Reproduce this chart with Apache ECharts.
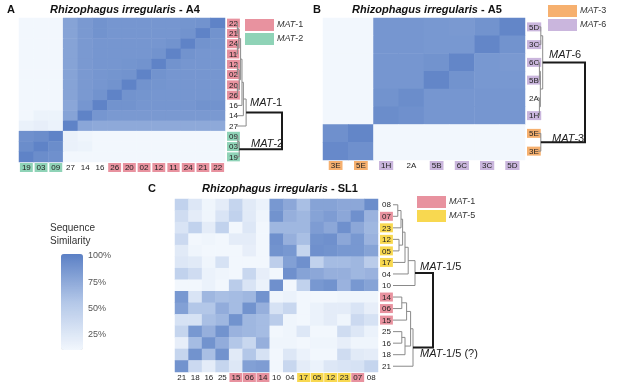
<!DOCTYPE html>
<html>
<head>
<meta charset="utf-8">
<script src="https://cdn.jsdelivr.net/npm/echarts@6/dist/echarts.min.js"></script>
<style>
html, body { margin: 0; padding: 0; background: #fff; }
#chart { width: 617px; height: 385px; }
</style>
</head>
<body>
<div id="chart"></div>
<script>
// ---- panel A : A4 ----
var rowsA = ['22', '21', '24', '11', '12', '02', '20', '26', '16', '14', '27', '09', '03', '19'];
var rowTagsA = ['m1', 'm1', 'm1', 'm1', 'm1', 'm1', 'm1', 'm1', 'n', 'n', 'n', 'm2', 'm2', 'm2'];
var colsA = ['19', '03', '09', '27', '14', '16', '26', '20', '02', '12', '11', '24', '21', '22'];
var colTagsA = ['m2', 'm2', 'm2', 'n', 'n', 'n', 'm1', 'm1', 'm1', 'm1', 'm1', 'm1', 'm1', 'm1'];
var simA = [
	[5, 4, 4, 78, 84, 88, 86, 86, 86, 86, 86, 87, 88, 98],
	[5, 5, 4, 78, 84, 88, 86, 86, 86, 86, 86, 88, 98, 88],
	[6, 4, 4, 78, 84, 86, 86, 86, 86, 86, 88, 98, 88, 87],
	[5, 3, 4, 78, 84, 86, 86, 86, 86, 88, 98, 88, 86, 86],
	[5, 4, 4, 78, 84, 86, 86, 87, 88, 98, 88, 86, 86, 86],
	[5, 4, 4, 78, 84, 86, 87, 88, 98, 88, 86, 86, 86, 86],
	[5, 6, 4, 78, 84, 86, 88, 98, 88, 87, 86, 86, 86, 86],
	[5, 8, 4, 78, 84, 88, 98, 88, 87, 86, 86, 86, 86, 86],
	[6, 5, 5, 76, 86, 98, 88, 88, 86, 86, 86, 86, 88, 88],
	[8, 14, 14, 78, 98, 86, 84, 84, 84, 84, 84, 84, 84, 84],
	[16, 18, 15, 98, 76, 74, 74, 74, 74, 74, 74, 74, 74, 74],
	[90, 92, 98, 16, 12, 6, 5, 4, 4, 4, 4, 4, 5, 4],
	[92, 98, 92, 16, 14, 7, 8, 6, 4, 4, 4, 4, 5, 4],
	[98, 92, 90, 10, 8, 5, 5, 4, 4, 4, 4, 4, 4, 4]
];
// [child a, child b, merge height], leaves are 0..n-1, new nodes n, n+1 ...
var treeA = [
	[0, 1, 0.03], [2, 3, 0.03], [14, 15, 0.06], [4, 5, 0.03], [6, 7, 0.03],
	[17, 18, 0.07], [16, 19, 0.1], [20, 8, 0.13], [21, 9, 0.16], [22, 10, 0.22],
	[11, 12, 0.04], [24, 13, 0.07], [23, 25, 1.0]
];

// ---- panel B : A5 ----
var rowsB = ['5D', '3C', '6C', '5B', '2A', '1H', '5E', '3E'];
var rowTagsB = ['m6', 'm6', 'm6', 'm6', 'n', 'm6', 'm3', 'm3'];
var colsB = ['3E', '5E', '1H', '2A', '5B', '6C', '3C', '5D'];
var colTagsB = ['m3', 'm3', 'm6', 'n', 'm6', 'm6', 'm6', 'm6'];
var simB = [
	[5, 6, 86, 86, 85, 84, 88, 96],
	[4, 5, 86, 86, 85, 85, 96, 88],
	[5, 4, 86, 86, 88, 96, 85, 84],
	[5, 4, 86, 86, 96, 88, 85, 85],
	[4, 4, 88, 92, 86, 86, 86, 86],
	[4, 4, 92, 90, 86, 86, 86, 86],
	[90, 96, 4, 4, 5, 4, 4, 5],
	[94, 90, 4, 4, 4, 4, 4, 6]
];
var treeB = [
	[0, 1, 0.06], [2, 3, 0.03], [4, 5, 0.03], [9, 10, 0.05], [8, 11, 0.1],
	[6, 7, 0.06], [12, 13, 1.0]
];

// ---- panel C : SL1 ----
var rowsC = ['08', '07', '23', '12', '05', '17', '04', '10', '14', '06', '15', '25', '16', '18', '21'];
var rowTagsC = ['n', 'm1', 'm5', 'm5', 'm5', 'm5', 'n', 'n', 'm1', 'm1', 'm1', 'n', 'n', 'n', 'n'];
var colsC = ['21', '18', '16', '25', '15', '06', '14', '10', '04', '17', '05', '12', '23', '07', '08'];
var colTagsC = ['n', 'n', 'n', 'n', 'm1', 'm1', 'm1', 'n', 'n', 'm5', 'm5', 'm5', 'm5', 'm1', 'n'];
var simC = [
	[45, 25, 12, 20, 42, 22, 15, 85, 75, 60, 78, 78, 75, 75, 92],
	[35, 20, 12, 28, 45, 22, 12, 88, 70, 65, 78, 82, 75, 90, 68],
	[28, 45, 20, 45, 10, 25, 10, 65, 65, 65, 82, 75, 90, 75, 65],
	[38, 10, 12, 10, 20, 20, 10, 90, 70, 60, 88, 90, 75, 85, 68],
	[22, 12, 10, 5, 10, 18, 8, 88, 85, 42, 90, 88, 85, 85, 78],
	[25, 22, 12, 30, 10, 10, 10, 48, 80, 90, 45, 62, 62, 65, 50],
	[45, 35, 15, 12, 10, 40, 18, 5, 90, 78, 75, 70, 70, 65, 68],
	[5, 5, 15, 5, 50, 28, 15, 90, 5, 45, 85, 88, 68, 85, 78],
	[85, 28, 65, 60, 62, 65, 88, 12, 15, 8, 8, 10, 12, 12, 12],
	[80, 55, 55, 72, 62, 88, 70, 30, 40, 8, 15, 20, 20, 28, 18],
	[30, 30, 60, 65, 88, 65, 62, 50, 12, 10, 15, 20, 12, 38, 30],
	[42, 85, 70, 88, 68, 65, 62, 3, 12, 25, 5, 10, 35, 25, 15],
	[18, 62, 88, 72, 55, 40, 70, 12, 12, 10, 12, 12, 18, 12, 12],
	[42, 88, 60, 88, 22, 55, 30, 5, 25, 15, 10, 8, 35, 22, 20],
	[88, 38, 20, 42, 25, 80, 82, 5, 40, 20, 15, 25, 28, 30, 42]
];
var treeC = [
	[0, 1, 0.12], [15, 2, 0.2], [3, 4, 0.15], [16, 17, 0.24], [18, 5, 0.3],
	[19, 6, 0.38], [20, 7, 0.55], [8, 9, 0.22], [22, 10, 0.34], [11, 12, 0.22],
	[24, 13, 0.3], [23, 25, 0.44], [26, 14, 0.5], [21, 27, 1.0]
];

var FONT = '"Liberation Sans", Arial, sans-serif';
var tagColors = {
	m1 : '#e8929f',
	m2 : '#8fd3b7',
	m3 : '#f6b06f',
	m5 : '#f8d850',
	m6 : '#cab6dd'
};
var tagRich = {
	n : {
		fontSize : 8,
		fontFamily : FONT,
		color : '#222',
		padding : [ 1, 2, 0, 2 ]
	}
};
for ( var k in tagColors) {
	tagRich[k] = {
		fontSize : 8,
		fontFamily : FONT,
		color : '#222',
		backgroundColor : tagColors[k],
		padding : [ 1, 2, 0, 2 ]
	};
}

function toCells(matrix) {
	var out = [];
	matrix.forEach(function(row, r) {
		row.forEach(function(v, c) {
			out.push([ c, r, v ]);
		});
	});
	return out;
}

// turn merge list into bracket links [h1, y1, h, y2, h2, isRoot]
function buildLinks(n, merges) {
	var pos = [], height = [], links = [];
	for ( var i = 0; i < n; i++) {
		pos.push(i);
		height.push(0);
	}
	merges.forEach(function(m, idx) {
		var a = m[0], b = m[1], h = m[2];
		links.push([ height[a], pos[a], h, pos[b], height[b], idx === merges.length - 1 ? 1 : 0 ]);
		pos.push((pos[a] + pos[b]) / 2);
		height.push(h);
	});
	return links;
}

function renderLink(params, api) {
	var p1 = api.coord([ api.value(0), api.value(1) ]);
	var p2 = api.coord([ api.value(2), api.value(1) ]);
	var p3 = api.coord([ api.value(2), api.value(3) ]);
	var p4 = api.coord([ api.value(4), api.value(3) ]);
	var root = api.value(5) === 1;
	return {
		type : 'polyline',
		shape : {
			points : [ p1, p2, p3, p4 ]
		},
		style : {
			fill : null,
			stroke : root ? '#1a1a1a' : '#8a8a8a',
			lineWidth : root ? 2 : 1
		}
	};
}

function tagFormatter(tags) {
	return function(value, index) {
		return '{' + tags[index] + '|' + value + '}';
	};
}

// 网格位置
var panels = [
	{ rows : rowsA, rowTags : rowTagsA, cols : colsA, colTags : colTagsA, sim : simA, tree : treeA,
		heat : { left : 19, top : 18, width : 206, height : 144 },
		dendro : { left : 236, top : 18, width : 46, height : 144 } },
	{ rows : rowsB, rowTags : rowTagsB, cols : colsB, colTags : colTagsB, sim : simB, tree : treeB,
		heat : { left : 323, top : 18, width : 202, height : 142 },
		dendro : { left : 538, top : 18, width : 47, height : 142 } },
	{ rows : rowsC, rowTags : rowTagsC, cols : colsC, colTags : colTagsC, sim : simC, tree : treeC,
		heat : { left : 175, top : 199, width : 203, height : 173 },
		dendro : { left : 393, top : 199, width : 40, height : 173 } }
];

var grids = [], xAxes = [], yAxes = [], series = [];
panels.forEach(function(p, i) {
	grids.push(p.heat);
	xAxes.push({
		type : 'category',
		gridIndex : i,
		data : p.cols,
		position : 'bottom',
		axisLine : { show : false },
		axisTick : { show : false },
		splitLine : { show : false },
		axisLabel : {
			interval : 0,
			margin : 1,
			formatter : tagFormatter(p.colTags),
			rich : tagRich
		}
	});
	yAxes.push({
		type : 'category',
		gridIndex : i,
		data : p.rows,
		inverse : true,
		position : 'right',
		axisLine : { show : false },
		axisTick : { show : false },
		splitLine : { show : false },
		axisLabel : {
			interval : 0,
			margin : 2,
			formatter : tagFormatter(p.rowTags),
			rich : tagRich
		}
	});
	series.push({
		type : 'heatmap',
		xAxisIndex : i,
		yAxisIndex : i,
		silent : true,
		data : toCells(p.sim)
	});
});
panels.forEach(function(p, i) {
	var gi = grids.length;
	grids.push(p.dendro);
	xAxes.push({ type : 'value', gridIndex : gi, min : 0, max : 1, show : false });
	yAxes.push({ type : 'value', gridIndex : gi, min : -0.5, max : p.rows.length - 0.5, inverse : true, show : false });
	series.push({
		type : 'custom',
		xAxisIndex : gi,
		yAxisIndex : gi,
		silent : true,
		clip : false,
		renderItem : renderLink,
		encode : { x : [ 0, 2, 4 ], y : [ 1, 3 ] },
		data : buildLinks(p.rows.length, p.tree)
	});
});
// 色条刻度
var barGrid = grids.length;
grids.push({ left : 83, top : 256, width : 1, height : 105 });
xAxes.push({ type : 'value', gridIndex : barGrid, show : false });
yAxes.push({
	type : 'value',
	gridIndex : barGrid,
	min : 0,
	max : 100,
	interval : 25,
	position : 'right',
	axisLine : { show : false },
	axisTick : { show : false },
	splitLine : { show : false },
	axisLabel : {
		margin : 4,
		fontSize : 9,
		fontFamily : FONT,
		color : '#555',
		formatter : function(v) {
			return v === 0 ? '' : v + '%';
		}
	}
});

function legendItems(x, y, items) {
	var els = [];
	items.forEach(function(it, i) {
		els.push({
			type : 'rect',
			left : x,
			top : y + i * 14,
			shape : { width : 29, height : 12 },
			style : { fill : tagColors[it[0]] }
		});
		els.push({
			type : 'text',
			left : x + 32,
			top : y + i * 14 + 1,
			style : {
				text : '{i|MAT}-' + it[1],
				fontSize : 9,
				fontFamily : FONT,
				fill : '#333',
				rich : { i : { fontStyle : 'italic', fontSize : 9, fontFamily : FONT, fill : '#333' } }
			}
		});
	});
	return els;
}

function titleText(x, y, letter, name) {
	return [ {
		type : 'text',
		left : x.letter,
		top : y,
		style : { text : letter, fontSize : 11, fontWeight : 'bold', fontFamily : FONT, fill : '#111' }
	}, {
		type : 'text',
		left : x.title,
		top : y,
		style : {
			text : '{i|Rhizophagus irregularis} - ' + name,
			fontSize : 11,
			fontWeight : 'bold',
			fontFamily : FONT,
			fill : '#111',
			rich : { i : { fontStyle : 'italic', fontWeight : 'bold', fontSize : 11, fontFamily : FONT, fill : '#111' } }
		}
	} ];
}

function branchLabel(x, y, txt) {
	return {
		type : 'text',
		left : x,
		top : y,
		style : {
			text : '{i|MAT}' + txt,
			fontSize : 11,
			fontFamily : FONT,
			fill : '#222',
			rich : { i : { fontStyle : 'italic', fontSize : 11, fontFamily : FONT, fill : '#222' } }
		}
	};
}

var graphics = [].concat(
	titleText({ letter : 7, title : 50 }, 4, 'A', 'A4'),
	titleText({ letter : 313, title : 352 }, 4, 'B', 'A5'),
	titleText({ letter : 148, title : 202 }, 183, 'C', 'SL1'),
	legendItems(245, 19, [ [ 'm1', '1' ], [ 'm2', '2' ] ]),
	legendItems(548, 5, [ [ 'm3', '3' ], [ 'm6', '6' ] ]),
	legendItems(417, 196, [ [ 'm1', '1' ], [ 'm5', '5' ] ]),
	[ branchLabel(250, 97, '-1'), branchLabel(251, 138, '-2'),
		branchLabel(549, 49, '-6'), branchLabel(552, 133, '-3'),
		branchLabel(420, 261, '-1/5'), branchLabel(420, 348, '-1/5 (?)'), {
			type : 'text',
			left : 50,
			top : 222,
			style : {
				text : 'Sequence\nSimilarity',
				fontSize : 10,
				lineHeight : 13,
				fontFamily : FONT,
				fill : '#333',
				align : 'center'
			}
		} ]);

var chart = echarts.init(document.getElementById('chart'));
chart.setOption({
	animation : false,
	textStyle : { fontFamily : FONT },
	grid : grids,
	xAxis : xAxes,
	yAxis : yAxes,
	visualMap : {
		type : 'continuous',
		min : 10,
		max : 100,
		seriesIndex : [ 0, 1, 2 ],
		calculable : false,
		orient : 'vertical',
		left : 61,
		top : 254,
		padding : 0,
		itemWidth : 22,
		itemHeight : 96,
		text : [ '', '' ],
		inRange : {
			color : [ '#f2f7fd', '#b3c7e8', '#5b80c5' ]
		}
	},
	graphic : graphics,
	series : series
});
</script>
</body>
</html>
